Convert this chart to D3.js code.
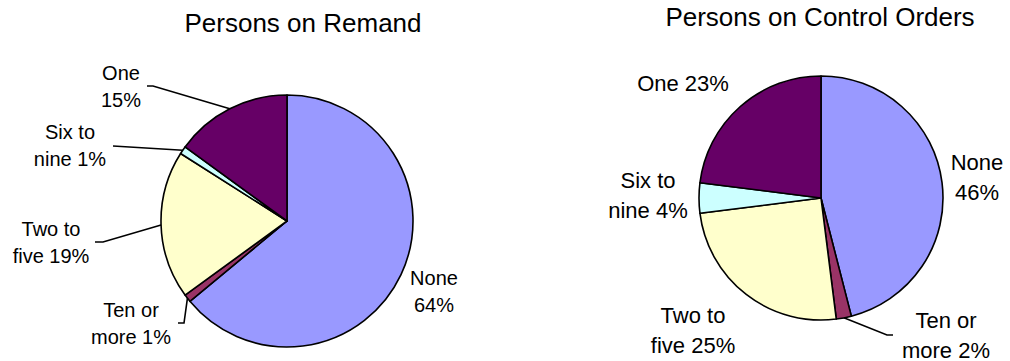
<!DOCTYPE html>
<html>
<head>
<meta charset="utf-8">
<script src="https://cdn.jsdelivr.net/npm/d3@7"></script>
<style>
  body { margin: 0; background: #fff; }
  svg text { font-family: "Liberation Sans", Arial, sans-serif; fill: #000; }
</style>
</head>
<body>
<svg id="chart" width="1010" height="361"></svg>
<script>
// categories in clockwise order starting at 12 o'clock
var categories = ["None", "Ten or more", "Two to five", "Six to nine", "One"];
var remandValues = [64, 1, 19, 1, 15];
var controlValues = [46, 2, 25, 4, 23];

// label text as it is broken over lines
var remandLabels = [["None", "64%"], ["Ten or", "more 1%"], ["Two to", "five 19%"], ["Six to", "nine 1%"], ["One", "15%"]];
var controlLabels = [["None", "46%"], ["Ten or", "more 2%"], ["Two to", "five 25%"], ["Six to", "nine 4%"], ["One 23%"]];

var titles = ["Persons on Remand", "Persons on Control Orders"];

var colors = d3.scaleOrdinal()
    .domain(categories)
    .range(["#9999ff", "#993366", "#ffffcc", "#ccffff", "#660066"]);

// layout of each chart (label spots relative to the pie centre, leader elbows)
var charts = [
    {
        title: titles[0], values: remandValues, labels: remandLabels,
        cx: 287, cy: 221, r: 126, titleX: 303, titleY: 32,
        fontSize: 20, lineH: 27,
        labelPos: [[147, 64], [-156, 96], [-236, 15], [-217, -82], [-166, -141]],
        leaders: [null, [[-103, 102], [-109, 102]], [[-184, 21], [-192, 21]], [[-174, -75]], [[-134, -135], [-140, -135]]]
    },
    {
        title: titles[1], values: controlValues, labels: controlLabels,
        cx: 821, cy: 198, r: 122, titleX: 820, titleY: 26,
        fontSize: 22, lineH: 30,
        labelPos: [[156, -28], [125, 130], [-128, 125], [-173, -10], [-138, -107]],
        leaders: [null, [[66, 137], [72, 137]], null, null, null]
    }
];

var svg = d3.select("#chart");

charts.forEach(function (c) {
    var g = svg.append("g").attr("transform", "translate(" + c.cx + "," + c.cy + ")");

    var pie = d3.pie().sort(null).value(function (d) { return d; });
    var arcs = pie(c.values);
    var arc = d3.arc().innerRadius(0).outerRadius(c.r);

    g.selectAll("path.slice")
        .data(arcs)
        .enter().append("path")
        .attr("class", "slice")
        .attr("d", arc)
        .attr("fill", function (d, i) { return colors(categories[i]); })
        .attr("stroke", "#000")
        .attr("stroke-width", 1.6)
        .attr("stroke-linejoin", "round");

    // leader lines from the middle of the slice edge
    arcs.forEach(function (d, i) {
        var pts = c.leaders[i];
        if (!pts) return;
        var mid = (d.startAngle + d.endAngle) / 2;
        var line = [[c.r * Math.sin(mid), -c.r * Math.cos(mid)]].concat(pts);
        g.append("path")
            .attr("d", d3.line()(line))
            .attr("fill", "none")
            .attr("stroke", "#000")
            .attr("stroke-width", 1.6);
    });

    // labels
    c.labels.forEach(function (lines, i) {
        var t = g.append("text")
            .attr("text-anchor", "middle")
            .attr("font-size", c.fontSize + "px")
            .attr("x", c.labelPos[i][0])
            .attr("y", c.labelPos[i][1]);
        lines.forEach(function (s, k) {
            t.append("tspan")
                .attr("x", c.labelPos[i][0])
                .attr("dy", k === 0 ? 0 : c.lineH)
                .text(s);
        });
    });

    svg.append("text")
        .attr("x", c.titleX)
        .attr("y", c.titleY)
        .attr("text-anchor", "middle")
        .attr("font-size", "26px")
        .text(c.title);
});
</script>
</body>
</html>
